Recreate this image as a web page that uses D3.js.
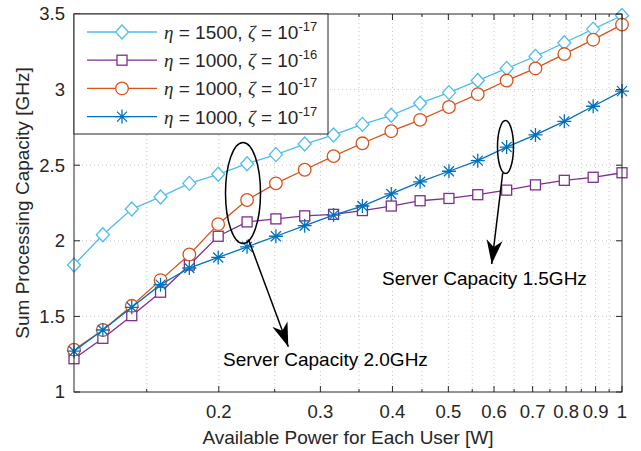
<!DOCTYPE html>
<html>
<head>
<meta charset="utf-8">
<script src="https://cdn.jsdelivr.net/npm/d3@7"></script>
<style>
  body { margin: 0; background: #fff; }
  text { font-family: "Liberation Sans", Arial, sans-serif; fill: #262626; }
</style>
</head>
<body>
<div id="chart"></div>
<script>
// Chart size and plot box.
const width = 641;
const height = 451;
const margin = { top: 14, right: 19, bottom: 59, left: 74 };

// Available power per user [W] (0.5 dB steps).
const powerW = [0.1122, 0.1259, 0.1413, 0.1585, 0.1778, 0.1995, 0.2239, 0.2512, 0.2818, 0.3162,
                0.3548, 0.3981, 0.4467, 0.5012, 0.5623, 0.6310, 0.7079, 0.7943, 0.8913, 1.0];

// Sum processing capacity [GHz] for each curve.
const eta1500z17 = [1.84, 2.04, 2.21, 2.29, 2.38, 2.44, 2.51, 2.57, 2.64, 2.70,
                    2.77, 2.83, 2.91, 2.98, 3.06, 3.14, 3.22, 3.31, 3.40, 3.49];
const eta1000z16 = [1.22, 1.355, 1.505, 1.66, 1.84, 2.03, 2.125, 2.145, 2.165, 2.175,
                    2.20, 2.23, 2.265, 2.28, 2.305, 2.335, 2.37, 2.40, 2.42, 2.45];
const eta1000z17 = [1.28, 1.41, 1.57, 1.74, 1.91, 2.11, 2.27, 2.38, 2.47, 2.56,
                    2.645, 2.725, 2.80, 2.885, 2.97, 3.06, 3.14, 3.235, 3.33, 3.43];
const eta1000z17b = [1.27, 1.41, 1.56, 1.71, 1.82, 1.89, 1.96, 2.03, 2.10, 2.17,
                     2.23, 2.31, 2.39, 2.46, 2.53, 2.62, 2.70, 2.79, 2.89, 2.99];

// Tick values.
const xMajor = [0.2, 0.3, 0.4, 0.5, 0.6, 0.7, 0.8, 0.9, 1];
const xMinor = [0.15, 0.25, 0.35, 0.45, 0.55, 0.65, 0.75, 0.85, 0.95];
const yTicks = [1, 1.5, 2, 2.5, 3, 3.5];

const series = [
  { eta: "1500", zeta: "-17", values: eta1500z17, color: "#4DBEEE", marker: "diamond" },
  { eta: "1000", zeta: "-16", values: eta1000z16, color: "#7E2F8E", marker: "square" },
  { eta: "1000", zeta: "-17", values: eta1000z17, color: "#D95319", marker: "circle" },
  { eta: "1000", zeta: "-17", values: eta1000z17b, color: "#0072BD", marker: "star" }
];

const svg = d3.select("#chart")
  .append("svg")
  .attr("width", width)
  .attr("height", height);

const x = d3.scaleLog()
  .domain([0.1122, 1])
  .range([margin.left, width - margin.right]);

const y = d3.scaleLinear()
  .domain([1, 3.5])
  .range([height - margin.bottom, margin.top]);

const x0 = margin.left, x1 = width - margin.right;
const y0 = height - margin.bottom, y1 = margin.top;

// Dotted grid.
const grid = svg.append("g")
  .attr("stroke", "#c8c8c8")
  .attr("stroke-width", 1)
  .attr("stroke-dasharray", "1,3");

grid.selectAll(".gx")
  .data(xMajor.concat(xMinor).filter(d => d < 1))
  .enter().append("line")
  .attr("x1", d => x(d)).attr("x2", d => x(d))
  .attr("y1", y0).attr("y2", y1);

grid.selectAll(".gy")
  .data(yTicks.slice(1, -1))
  .enter().append("line")
  .attr("x1", x0).attr("x2", x1)
  .attr("y1", d => y(d)).attr("y2", d => y(d));

// Marker shapes.
function drawMarker(g, type, color) {
  if (type === "diamond") {
    g.append("path").attr("d", "M0,-7L6.5,0L0,7L-6.5,0Z")
      .attr("fill", "#fff").attr("stroke", color).attr("stroke-width", 1.3);
  } else if (type === "square") {
    g.append("rect").attr("x", -5).attr("y", -5).attr("width", 10).attr("height", 10)
      .attr("fill", "#fff").attr("stroke", color).attr("stroke-width", 1.3);
  } else if (type === "circle") {
    g.append("circle").attr("r", 6.3)
      .attr("fill", "#fff").attr("stroke", color).attr("stroke-width", 1.3);
  } else {
    g.append("path")
      .attr("d", "M0,-7L0,7M-7,0L7,0M-5,-5L5,5M-5,5L5,-5")
      .attr("fill", "none").attr("stroke", color).attr("stroke-width", 1.3);
  }
}

// Lines and markers.
const line = d3.line()
  .x((d, i) => x(powerW[i]))
  .y(d => y(d));

series.forEach(function(s) {
  svg.append("path")
    .datum(s.values)
    .attr("fill", "none")
    .attr("stroke", s.color)
    .attr("stroke-width", 1.3)
    .attr("d", line);

  svg.selectAll(null)
    .data(s.values)
    .enter().append("g")
    .attr("transform", (d, i) => "translate(" + x(powerW[i]) + "," + y(d) + ")")
    .each(function() { drawMarker(d3.select(this), s.marker, s.color); });
});

// Axes box with inward ticks on all sides.
const axisColor = "#262626";
svg.append("rect")
  .attr("x", x0).attr("y", y1)
  .attr("width", x1 - x0).attr("height", y0 - y1)
  .attr("fill", "none").attr("stroke", axisColor).attr("stroke-width", 1);

const ticks = svg.append("g").attr("stroke", axisColor).attr("stroke-width", 1);
xMajor.forEach(function(d) {
  ticks.append("line").attr("x1", x(d)).attr("x2", x(d)).attr("y1", y0).attr("y2", y0 - 6);
  ticks.append("line").attr("x1", x(d)).attr("x2", x(d)).attr("y1", y1).attr("y2", y1 + 6);
});
xMinor.forEach(function(d) {
  ticks.append("line").attr("x1", x(d)).attr("x2", x(d)).attr("y1", y0).attr("y2", y0 - 3);
  ticks.append("line").attr("x1", x(d)).attr("x2", x(d)).attr("y1", y1).attr("y2", y1 + 3);
});
yTicks.forEach(function(d) {
  ticks.append("line").attr("x1", x0).attr("x2", x0 + 6).attr("y1", y(d)).attr("y2", y(d));
  ticks.append("line").attr("x1", x1).attr("x2", x1 - 6).attr("y1", y(d)).attr("y2", y(d));
});

// Tick labels.
svg.selectAll(".xl")
  .data(xMajor)
  .enter().append("text")
  .attr("x", d => x(d))
  .attr("y", y0 + 26)
  .attr("text-anchor", "middle")
  .style("font-size", "18.5px")
  .text(d => d3.format("~g")(d));

svg.selectAll(".yl")
  .data(yTicks)
  .enter().append("text")
  .attr("x", x0 - 9)
  .attr("y", d => y(d))
  .attr("dy", "0.35em")
  .attr("text-anchor", "end")
  .style("font-size", "18.5px")
  .text(d => d);

// Axis titles.
svg.append("text")
  .attr("x", (x0 + x1) / 2)
  .attr("y", 444)
  .attr("text-anchor", "middle")
  .style("font-size", "19px")
  .text("Available Power for Each User [W]");

svg.append("text")
  .attr("transform", "translate(29," + ((y0 + y1) / 2) + ") rotate(-90)")
  .attr("text-anchor", "middle")
  .style("font-size", "19px")
  .text("Sum Processing Capacity [GHz]");

// Legend.
const legend = svg.append("g");
legend.append("rect")
  .attr("x", 74).attr("y", 14)
  .attr("width", 254).attr("height", 120)
  .attr("fill", "#fff").attr("stroke", axisColor).attr("stroke-width", 1);

series.forEach(function(s, i) {
  const ly = 32 + i * 28.2;
  legend.append("line")
    .attr("x1", 87).attr("x2", 157).attr("y1", ly).attr("y2", ly)
    .attr("stroke", s.color).attr("stroke-width", 1.3);
  drawMarker(legend.append("g").attr("transform", "translate(122," + ly + ")"), s.marker, s.color);

  const t = legend.append("text")
    .attr("x", 164).attr("y", ly + 7)
    .style("font-size", "19px");
  t.append("tspan").style("font-family", "'Liberation Serif', serif").style("font-style", "italic").text("\u03B7");
  t.append("tspan").text(" = " + s.eta + ", ");
  t.append("tspan").style("font-family", "'Liberation Serif', serif").style("font-style", "italic").text("\u03B6");
  t.append("tspan").text(" = 10");
  t.append("tspan").attr("dy", -8).style("font-size", "13px").text(s.zeta);
});

// Annotations: ellipses, arrows and notes.
const note = svg.append("g").attr("stroke", "#000").attr("stroke-width", 1.5).attr("fill", "none");
note.append("ellipse").attr("cx", 243).attr("cy", 193).attr("rx", 17.5).attr("ry", 50.5);
note.append("ellipse").attr("cx", 505.5).attr("cy", 147).attr("rx", 8).attr("ry", 26.5);

function arrow(ax, ay, bx, by) {
  note.append("line").attr("x1", ax).attr("y1", ay).attr("x2", bx).attr("y2", by);
  const ang = Math.atan2(by - ay, bx - ax);
  const L = 24, W = 8, back = 17;
  const ux = Math.cos(ang), uy = Math.sin(ang);
  const px = -uy, py = ux;
  const p1 = [bx - ux * L + px * W, by - uy * L + py * W];
  const p2 = [bx - ux * back, by - uy * back];
  const p3 = [bx - ux * L - px * W, by - uy * L - py * W];
  svg.append("path")
    .attr("d", "M" + bx + "," + by + "L" + p1 + "L" + p2 + "L" + p3 + "Z")
    .attr("fill", "#000");
}
arrow(248.5, 239.5, 288.3, 346.7);
arrow(502.7, 173, 491.7, 264);

svg.append("text")
  .attr("x", 223).attr("y", 366)
  .style("font-size", "19px")
  .style("fill", "#000")
  .text("Server Capacity 2.0GHz");

svg.append("text")
  .attr("x", 382).attr("y", 284.5)
  .style("font-size", "19px")
  .style("fill", "#000")
  .text("Server Capacity 1.5GHz");
</script>
</body>
</html>
